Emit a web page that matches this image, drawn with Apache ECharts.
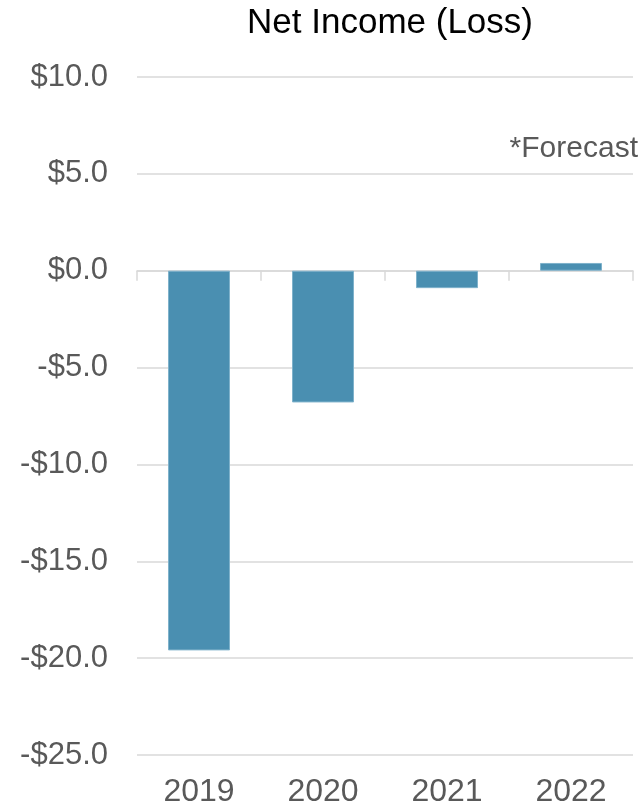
<!DOCTYPE html>
<html>
<head>
<meta charset="utf-8">
<script src="https://cdn.jsdelivr.net/npm/echarts@6/dist/echarts.min.js"></script>
<style>
  html, body { margin: 0; padding: 0; background: #fff; }
  #chart { width: 643px; height: 808px; }
</style>
</head>
<body>
<div id="chart"></div>
<script>
// data
const years = ['2019', '2020', '2021', '2022']
const netIncome = [-19.6, -6.8, -0.9, 0.4]

const font = 'Liberation Sans, Arial, sans-serif'

const chart = echarts.init(document.getElementById('chart'))

const money = v => (v < 0 ? '-$' : '$') + Math.abs(v).toFixed(1)

chart.setOption({
  animation: false,
  title: {
    text: 'Net Income (Loss)',
    left: 385,
    textAlign: 'center',
    top: 1,
    textStyle: { fontFamily: font, fontSize: 35, fontWeight: 'normal', color: '#000' }
  },
  graphic: [{
    type: 'text',
    right: 5,
    top: 134,
    style: { text: '*Forecast', font: '30px ' + font, fill: '#595959' }
  }],
  grid: { left: 137, right: 10, top: 77, bottom: 53 },
  xAxis: [
    {
      type: 'category',
      data: years,
      position: 'bottom',
      axisLine: { show: false, onZero: false },
      axisTick: { show: false },
      axisLabel: { fontFamily: font, fontSize: 32, color: '#595959', margin: 21 }
    },
    {
      type: 'category',
      data: years,
      position: 'top',
      axisLine: { show: true, onZero: true, lineStyle: { color: '#d9d9d9', width: 1.5 } },
      axisTick: { show: true, inside: true, length: 10, lineStyle: { color: '#d9d9d9', width: 1.5 } },
      axisLabel: { show: false }
    }
  ],
  yAxis: {
    type: 'value',
    min: -25,
    max: 10,
    interval: 5,
    axisLine: { show: false },
    axisTick: { show: false },
    axisLabel: { formatter: money, fontFamily: font, fontSize: 31, color: '#595959', margin: 29 },
    splitLine: { lineStyle: { color: '#d9d9d9', width: 1.5 } }
  },
  series: [{
    type: 'bar',
    data: netIncome,
    barWidth: '50%',
    itemStyle: { color: '#4a8fb1', borderColor: '#7fb2cb', borderWidth: 1 }
  }]
})
</script>
</body>
</html>
